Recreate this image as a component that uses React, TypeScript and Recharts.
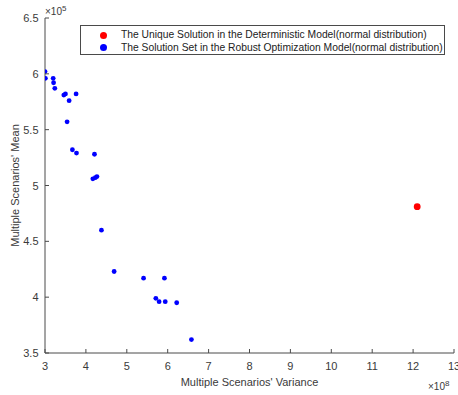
import React from 'react'
import { ScatterChart, Scatter, XAxis, YAxis } from 'recharts'

const seriesNames = [
  'The Unique Solution in the Deterministic Model(normal distribution)',
  'The Solution Set in the Robust Optimization Model(normal distribution)',
]
const seriesColors = ['#ff0000', '#0000ff']

// variance in units of 1e8, mean in units of 1e5
const deterministicVariance = [12.1]
const deterministicMean = [4.81]

const robustVariance = [
  3.0, 3.01, 3.2, 3.21, 3.24, 3.46, 3.5, 3.76, 3.59, 3.54, 3.67, 3.77, 4.21,
  4.17, 4.23, 4.27, 4.38, 4.69, 5.41, 5.92, 5.71, 5.79, 5.94, 6.22, 6.58,
]
const robustMean = [
  6.02, 5.96, 5.96, 5.92, 5.87, 5.81, 5.82, 5.82, 5.76, 5.57, 5.32, 5.29, 5.28,
  5.06, 5.07, 5.08, 4.6, 4.23, 4.17, 4.17, 3.99, 3.96, 3.96, 3.95, 3.62,
]

const xTicks = [3, 4, 5, 6, 7, 8, 9, 10, 11, 12, 13]
const yTicks = [3.5, 4, 4.5, 5, 5.5, 6, 6.5]

const deterministicData = deterministicVariance.map((x, i) => ({ x, y: deterministicMean[i] }))
const robustData = robustVariance.map((x, i) => ({ x, y: robustMean[i] }))

const axisColor = '#4a4a4a'
const textColor = '#3a3a3a'
const font = '"Liberation Sans", Arial, Helvetica, sans-serif'

const XTick = (props: any) => {
  const { x, y, payload } = props
  return (
    <g>
      <line x1={x} x2={x} y1={y} y2={y - 4} stroke={axisColor} strokeWidth={1} />
      <text x={x} y={y + 17} textAnchor="middle" fontSize={11} fill={textColor} fontFamily={font}>
        {payload.value}
      </text>
    </g>
  )
}

const YTick = (props: any) => {
  const { x, y, payload } = props
  return (
    <g>
      <line x1={x} x2={x + 4} y1={y} y2={y} stroke={axisColor} strokeWidth={1} />
      <text x={x - 6.5} y={y + 4} textAnchor="end" fontSize={11} fill={textColor} fontFamily={font}>
        {payload.value}
      </text>
    </g>
  )
}

const dot = (color: string, r: number) => (props: any) => (
  <circle cx={props.cx} cy={props.cy} r={r} fill={color} />
)

export default function App() {
  return (
    <div
      style={{
        position: 'absolute',
        left: 0,
        top: 0,
        width: 458,
        height: 395,
        background: '#ffffff',
        fontFamily: font,
      }}
    >
      <ScatterChart width={458} height={395} margin={{ top: 18, right: 4, bottom: 0, left: 0 }}>
        <XAxis
          type="number"
          dataKey="x"
          domain={[3, 13]}
          ticks={xTicks}
          allowDataOverflow
          height={42}
          tickSize={0}
          tickMargin={0}
          tickLine={false}
          tick={<XTick />}
          axisLine={{ stroke: axisColor, strokeWidth: 1 }}
          interval={0}
          label={{
            value: "Multiple Scenarios' Variance",
            position: 'insideBottom',
            offset: 9,
            fill: textColor,
            fontSize: 11,
          }}
        />
        <YAxis
          type="number"
          dataKey="y"
          domain={[3.5, 6.5]}
          ticks={yTicks}
          allowDataOverflow
          width={45}
          tickSize={0}
          tickMargin={0}
          tickLine={false}
          tick={<YTick />}
          axisLine={{ stroke: axisColor, strokeWidth: 1 }}
          interval={0}
        />
        <Scatter
          name={seriesNames[1]}
          data={robustData}
          fill={seriesColors[1]}
          shape={dot(seriesColors[1], 2.4)}
          isAnimationActive={false}
        />
        <Scatter
          name={seriesNames[0]}
          data={deterministicData}
          fill={seriesColors[0]}
          shape={dot(seriesColors[0], 3.4)}
          isAnimationActive={false}
        />
      </ScatterChart>

      {/* y axis title */}
      <svg style={{ position: 'absolute', left: 0, top: 0 }} width={24} height={395}>
        <text
          x={18.5}
          y={185.5}
          transform="rotate(-90 18.5 185.5)"
          textAnchor="middle"
          fontSize={11}
          fill={textColor}
          fontFamily={font}
        >
          Multiple Scenarios' Mean
        </text>
      </svg>

      {/* exponent labels */}
      <div style={{ position: 'absolute', left: 45, top: 3, fontSize: 10, color: textColor, lineHeight: '12px' }}>
        ×10<sup style={{ fontSize: 8, verticalAlign: 4 }}>5</sup>
      </div>
      <div style={{ position: 'absolute', left: 428, top: 378, fontSize: 10, color: textColor, lineHeight: '12px' }}>
        ×10<sup style={{ fontSize: 8, verticalAlign: 4 }}>8</sup>
      </div>

      {/* legend */}
      <div
        style={{
          position: 'absolute',
          left: 80,
          top: 25,
          width: 365,
          height: 30,
          boxSizing: 'border-box',
          border: `1px solid ${axisColor}`,
          background: '#ffffff',
          fontSize: 10.3,
          color: '#222',
        }}
      >
        {seriesNames.map((name, i) => (
          <div
            key={name}
            style={{ position: 'absolute', left: 0, top: 3 + i * 12.5, height: 12, lineHeight: '12px', whiteSpace: 'nowrap' }}
          >
            <span
              style={{
                position: 'absolute',
                left: 18.5,
                top: 2.5,
                width: 7,
                height: 7,
                borderRadius: '50%',
                background: seriesColors[i],
              }}
            />
            <span style={{ position: 'absolute', left: 40 }}>{name}</span>
          </div>
        ))}
      </div>
    </div>
  )
}
